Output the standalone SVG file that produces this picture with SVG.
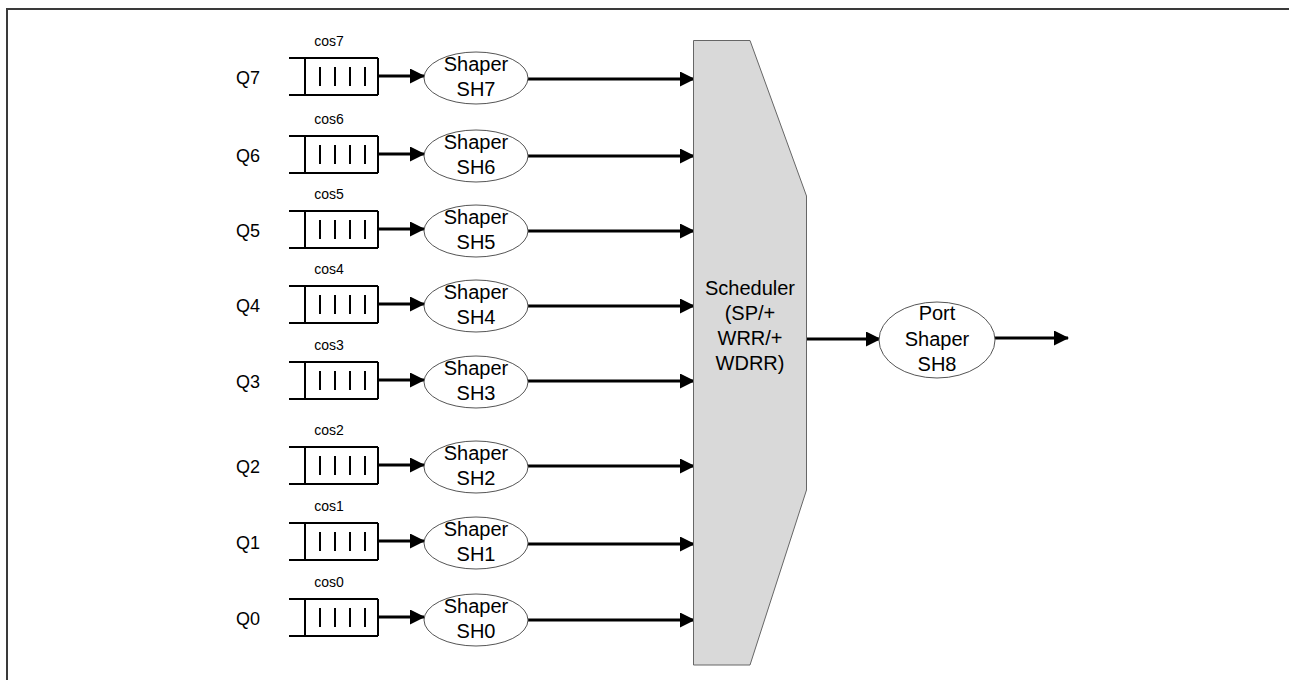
<svg xmlns="http://www.w3.org/2000/svg" width="1289" height="680" viewBox="0 0 1289 680">
<style>
text{font-family:"Liberation Sans",Arial,sans-serif;fill:#000}
.q{font-size:18px}
.cos{font-size:14px;text-anchor:middle}
.sh{font-size:20px;text-anchor:middle}
.box{fill:#fff;stroke:#000;stroke-width:2}
.ol{stroke:#000;stroke-width:2;fill:none}
.bar{stroke:#000;stroke-width:2}
.ell{fill:#fff;stroke:#555;stroke-width:1}
.c{stroke:#000;stroke-width:3;fill:none;marker-end:url(#ah)}
</style>
<defs>
<marker id="ah" markerUnits="userSpaceOnUse" markerWidth="15" markerHeight="15" refX="14" refY="7.5" orient="auto">
<path d="M0,0 L15,7.5 L0,15 z" fill="#000"/>
</marker>
<g id="queue">
<path class="ol" d="M-16,-19 H73 M-16,18 H73"/>
<path class="ol" d="M0,-19 V18 M73,-19 V18"/>
<path class="bar" d="M15,-10 V9 M30,-10 V9 M45,-10 V9 M60,-10 V9"/>
</g>
</defs>
<rect width="1289" height="680" fill="#fff"/>
<path d="M7,680 V9 H1289" fill="none" stroke="#3a3a3a" stroke-width="2"/>

<g id="connectors">
<line class="c" x1="379" y1="76" x2="424" y2="76"/>
<line class="c" x1="528" y1="79" x2="694" y2="79"/>
<line class="c" x1="379" y1="154" x2="424" y2="154"/>
<line class="c" x1="528" y1="156" x2="694" y2="156"/>
<line class="c" x1="379" y1="229" x2="424" y2="229"/>
<line class="c" x1="528" y1="231" x2="694" y2="231"/>
<line class="c" x1="379" y1="304" x2="424" y2="304"/>
<line class="c" x1="528" y1="306" x2="694" y2="306"/>
<line class="c" x1="379" y1="380" x2="424" y2="380"/>
<line class="c" x1="528" y1="381" x2="694" y2="381"/>
<line class="c" x1="379" y1="465" x2="424" y2="465"/>
<line class="c" x1="528" y1="466" x2="694" y2="466"/>
<line class="c" x1="379" y1="541" x2="424" y2="541"/>
<line class="c" x1="528" y1="544" x2="694" y2="544"/>
<line class="c" x1="379" y1="617" x2="424" y2="617"/>
<line class="c" x1="528" y1="620" x2="694" y2="620"/>
<line class="c" x1="807" y1="339" x2="880" y2="339"/>
<line class="c" x1="995" y1="338" x2="1068" y2="338"/>
</g>

<g id="q7"><text class="q" x="236" y="84">Q7</text><text class="cos" x="329" y="46">cos7</text><use href="#queue" x="305" y="77"/></g>
<g id="q6"><text class="q" x="236" y="162">Q6</text><text class="cos" x="329" y="124">cos6</text><use href="#queue" x="305" y="155"/></g>
<g id="q5"><text class="q" x="236" y="237">Q5</text><text class="cos" x="329" y="199">cos5</text><use href="#queue" x="305" y="230"/></g>
<g id="q4"><text class="q" x="236" y="312">Q4</text><text class="cos" x="329" y="274">cos4</text><use href="#queue" x="305" y="305"/></g>
<g id="q3"><text class="q" x="236" y="388">Q3</text><text class="cos" x="329" y="350">cos3</text><use href="#queue" x="305" y="381"/></g>
<g id="q2"><text class="q" x="236" y="473">Q2</text><text class="cos" x="329" y="435">cos2</text><use href="#queue" x="305" y="466"/></g>
<g id="q1"><text class="q" x="236" y="549">Q1</text><text class="cos" x="329" y="511">cos1</text><use href="#queue" x="305" y="542"/></g>
<g id="q0"><text class="q" x="236" y="625">Q0</text><text class="cos" x="329" y="587">cos0</text><use href="#queue" x="305" y="618"/></g>

<g id="sh7"><ellipse class="ell" cx="476" cy="78" rx="52" ry="26"/><text class="sh" x="476" y="71">Shaper</text><text class="sh" x="476" y="96">SH7</text></g>
<g id="sh6"><ellipse class="ell" cx="476" cy="156" rx="52" ry="26"/><text class="sh" x="476" y="149">Shaper</text><text class="sh" x="476" y="174">SH6</text></g>
<g id="sh5"><ellipse class="ell" cx="476" cy="231" rx="52" ry="26"/><text class="sh" x="476" y="224">Shaper</text><text class="sh" x="476" y="249">SH5</text></g>
<g id="sh4"><ellipse class="ell" cx="476" cy="306" rx="52" ry="26"/><text class="sh" x="476" y="299">Shaper</text><text class="sh" x="476" y="324">SH4</text></g>
<g id="sh3"><ellipse class="ell" cx="476" cy="382" rx="52" ry="26"/><text class="sh" x="476" y="375">Shaper</text><text class="sh" x="476" y="400">SH3</text></g>
<g id="sh2"><ellipse class="ell" cx="476" cy="467" rx="52" ry="26"/><text class="sh" x="476" y="460">Shaper</text><text class="sh" x="476" y="485">SH2</text></g>
<g id="sh1"><ellipse class="ell" cx="476" cy="543" rx="52" ry="26"/><text class="sh" x="476" y="536">Shaper</text><text class="sh" x="476" y="561">SH1</text></g>
<g id="sh0"><ellipse class="ell" cx="476" cy="620" rx="52" ry="26"/><text class="sh" x="476" y="613">Shaper</text><text class="sh" x="476" y="638">SH0</text></g>

<g id="scheduler">
<polygon points="693.5,40.5 750,40.5 806.5,196 806.5,490 750,665 693.5,665" fill="#d9d9d9" stroke="#666" stroke-width="1"/>
<text class="sh" x="750" y="295">Scheduler</text>
<text class="sh" x="750" y="320">(SP/+</text>
<text class="sh" x="750" y="345">WRR/+</text>
<text class="sh" x="750" y="370">WDRR)</text>
</g>

<g id="sh8">
<ellipse class="ell" cx="937" cy="340" rx="58" ry="38"/>
<text class="sh" x="937" y="320">Port</text>
<text class="sh" x="937" y="346">Shaper</text>
<text class="sh" x="937" y="371">SH8</text>
</g>
</svg>
